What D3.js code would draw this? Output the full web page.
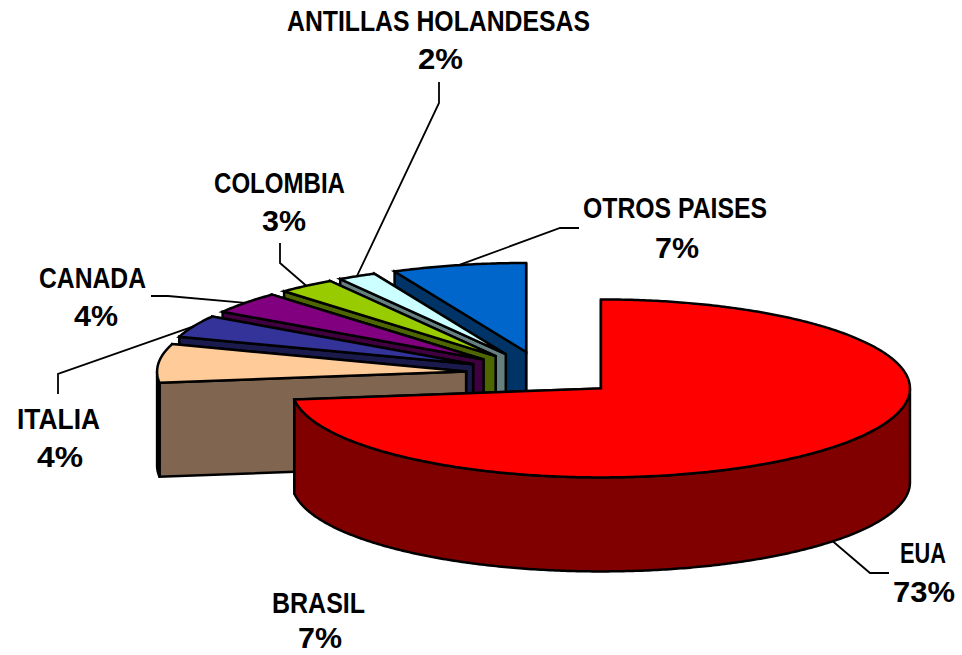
<!DOCTYPE html>
<html>
<head>
<meta charset="utf-8">
<script src="https://cdn.jsdelivr.net/npm/d3@7"></script>
<style>
  html, body { margin: 0; padding: 0; background: #fff; }
  svg { display: block; }
  text { font-family: "Liberation Sans", Arial, sans-serif; font-weight: bold; font-size: 29px; fill: #000; }
</style>
</head>
<body>
<svg id="chart" width="962" height="655"></svg>
<script>
// chart values
const categories = ['EUA', 'BRASIL', 'ITALIA', 'CANADA', 'COLOMBIA', 'ANTILLAS HOLANDESAS', 'OTROS PAISES'];
const shares = [73, 7, 4, 4, 3, 2, 7];
const topColors = ['#ff0000', '#ffcc99', '#333399', '#800080', '#99cc00', '#ccffff', '#0066cc'];
const sideColors = ['#800000', '#806650', '#1a1a4d', '#400040', '#4d6600', '#668080', '#003366'];

// label layout: name left, name right, name baseline, percent left, percent right, percent baseline
const labelBoxes = [
    [900, 946, 563, 893, 955, 602],
    [272, 365, 613, 298, 342, 648],
    [17, 100, 429, 37, 83, 467],
    [39, 146, 288, 74, 118, 326],
    [214, 345, 193, 262, 306, 231],
    [287, 590, 31, 418, 463, 69],
    [583, 767, 218, 655, 699, 258]
];
// leader line elbows, null for no leader
const leaderElbows = [
    [[870, 573], [889, 573]],
    null,
    [[58, 374], [58, 394]],
    [[168, 296], [151, 296]],
    [[280, 263], [280, 243]],
    [[439, 103], [439, 82]],
    [[560, 228], [579, 228]]
];

const cx = 543, cy = 373.7, rx = 309, ry = 89, depth = 94, explode = 0.25;

const topColor = d3.scaleOrdinal(categories, topColors);
const sideColor = d3.scaleOrdinal(categories, sideColors);

const slices = d3.pie().sort(null).value(d => d.share)(
    categories.map((name, i) => ({ name, share: shares[i], index: i }))
);

const svg = d3.select('#chart');
const line = d3.line();

// point on the tilted ellipse, angle clockwise from the top
function rimPoint(c, t, drop) {
    return [c[0] + rx * Math.sin(t), c[1] - ry * Math.cos(t) + (drop || 0)];
}

function sliceCentre(d) {
    const mid = (d.startAngle + d.endAngle) / 2;
    return [cx + explode * rx * Math.sin(mid), cy - explode * ry * Math.cos(mid)];
}

function arcPoints(c, t0, t1, drop) {
    const n = Math.max(2, Math.ceil((t1 - t0) / 0.01));
    return d3.range(n + 1).map(i => rimPoint(c, t0 + (t1 - t0) * i / n, drop));
}

function cutWall(c, t) {
    const r = rimPoint(c, t);
    return [c, r, [r[0], r[1] + depth], [c[0], c[1] + depth]];
}

function drawFace(pts, fill) {
    svg.append('path')
        .attr('d', line(pts) + 'Z')
        .attr('fill', fill)
        .attr('stroke', '#000')
        .attr('stroke-width', 2.5)
        .attr('stroke-linejoin', 'miter');
}

//leader lines go under the slices
slices.forEach(d => {
    const elbows = leaderElbows[d.data.index];
    if (!elbows) return;
    const mid = (d.startAngle + d.endAngle) / 2;
    const front = Math.cos(mid) < 0;
    const start = rimPoint(sliceCentre(d), mid, front ? depth : 0);
    svg.append('path')
        .attr('d', line([start].concat(elbows)))
        .attr('fill', 'none')
        .attr('stroke', '#000')
        .attr('stroke-width', 1.8);
});

//back to front: last slice first, EUA on top
slices.slice().reverse().forEach(d => {
    const c = sliceCentre(d);
    const side = sideColor(d.data.name);
    drawFace(cutWall(c, d.endAngle), side);
    drawFace(cutWall(c, d.startAngle), side);

    // outer wall only where it faces the viewer
    const a0 = Math.max(d.startAngle, Math.PI / 2);
    const a1 = Math.min(d.endAngle, Math.PI * 1.5);
    if (a1 > a0) {
        drawFace(arcPoints(c, a0, a1, 0).concat(arcPoints(c, a0, a1, depth).reverse()), side);
    }

    drawFace([c].concat(arcPoints(c, d.startAngle, d.endAngle, 0)), topColor(d.data.name));
});

//labels
slices.forEach(d => {
    const box = labelBoxes[d.data.index];
    svg.append('text')
        .attr('x', box[0])
        .attr('y', box[2])
        .attr('textLength', box[1] - box[0])
        .attr('lengthAdjust', 'spacingAndGlyphs')
        .text(d.data.name);
    svg.append('text')
        .attr('x', box[3])
        .attr('y', box[5])
        .attr('textLength', box[4] - box[3])
        .attr('lengthAdjust', 'spacingAndGlyphs')
        .text(d.data.share + '%');
});
</script>
</body>
</html>
